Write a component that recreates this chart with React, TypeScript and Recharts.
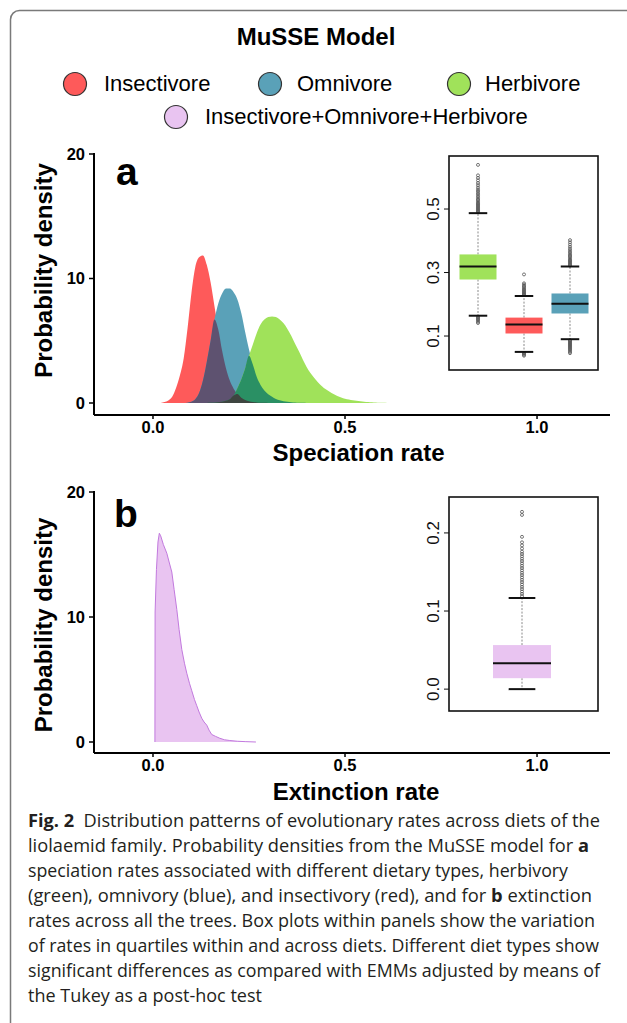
import React from 'react';
import { ComposedChart, Area, XAxis, YAxis, BarChart, Bar } from 'recharts';

const FONT = '"Liberation Sans", Arial, Helvetica, sans-serif';
const CAPTION_FONT = '"Open Sans", "Noto Sans", sans-serif';

const RED = '#fe5a5a';
const BLUE = '#5aa1b8';
const GREEN = '#a0e25a';
const RED_BLUE = '#5e5270';
const BLUE_GREEN = '#2a9064';
const ALL_THREE = '#3e4540';
const PURPLE_FILL = '#e9c4f1';
const PURPLE_LINE = '#c27ade';

// ---------- panel a: speciation rate densities on a shared rate grid ----------
const speciationRateGrid = [
  0.02, 0.03, 0.04, 0.05, 0.06, 0.07, 0.08, 0.09, 0.10, 0.11, 0.12, 0.13, 0.14, 0.15, 0.16,
  0.17, 0.18, 0.19, 0.20, 0.21, 0.22, 0.23, 0.24, 0.25, 0.26, 0.27, 0.28, 0.29, 0.30, 0.31,
  0.32, 0.33, 0.34, 0.35, 0.36, 0.37, 0.38, 0.39, 0.40, 0.41, 0.42, 0.43, 0.44, 0.45, 0.46,
  0.47, 0.48, 0.49, 0.50, 0.51, 0.52, 0.53, 0.54, 0.55, 0.56, 0.57, 0.58, 0.59, 0.60, 0.61,
];
const insectivoreDensity = [
  0, 0.08, 0.2, 0.5, 1.2, 2.2, 3.6, 6.0, 8.8, 10.9, 11.7, 11.85, 11.1, 9.7, 7.8,
  5.9, 4.2, 2.8, 1.8, 1.15, 0.72, 0.43, 0.25, 0.14, 0.08, 0.05, 0.03, 0.01, 0, 0,
  0, 0, 0, 0, 0, 0, 0, 0, 0, 0, 0, 0, 0, 0, 0,
  0, 0, 0, 0, 0, 0, 0, 0, 0, 0, 0, 0, 0, 0, 0,
];
const omnivoreDensity = [
  0, 0, 0, 0, 0, 0, 0, 0.03, 0.1, 0.3, 0.8, 1.8, 3.3, 5.0, 6.7,
  8.0, 8.8, 9.2, 9.2, 8.9, 8.3, 7.2, 5.7, 4.3, 3.1, 2.1, 1.45, 1.0, 0.7, 0.5,
  0.33, 0.22, 0.14, 0.1, 0.06, 0.04, 0.02, 0.01, 0, 0, 0, 0, 0, 0, 0,
  0, 0, 0, 0, 0, 0, 0, 0, 0, 0, 0, 0, 0, 0, 0,
];
const herbivoreDensity = [
  0, 0, 0, 0, 0, 0, 0, 0, 0, 0, 0, 0, 0, 0.01, 0.03,
  0.06, 0.1, 0.18, 0.3, 0.6, 1.2, 1.9, 2.8, 3.8, 4.7, 5.6, 6.3, 6.7, 6.9, 6.95,
  6.9, 6.7, 6.4, 5.95, 5.4, 4.75, 4.15, 3.5, 2.9, 2.4, 2.0, 1.65, 1.35, 1.1, 0.9,
  0.72, 0.57, 0.45, 0.35, 0.28, 0.22, 0.18, 0.14, 0.11, 0.09, 0.07, 0.05, 0.03, 0.02, 0,
];

// ---------- panel b: extinction rate density (all diets) [rate, density] ----------
const allDietsExtinctionDensity: number[][] = [
  [0.005, 0], [0.0055, 10.4], [0.009, 13.8], [0.013, 16.0], [0.0165, 16.7], [0.02, 16.5],
  [0.027, 15.8], [0.036, 15.1], [0.042, 14.4], [0.049, 13.6], [0.055, 12.2], [0.062, 10.6],
  [0.068, 9.0], [0.075, 7.4], [0.082, 6.3], [0.088, 5.5], [0.095, 4.7], [0.101, 4.1],
  [0.108, 3.4], [0.114, 2.9], [0.12, 2.4], [0.127, 1.9], [0.133, 1.6], [0.14, 1.35],
  [0.146, 0.95], [0.153, 0.6], [0.163, 0.45], [0.174, 0.3], [0.186, 0.18], [0.2, 0.12],
  [0.22, 0.06], [0.24, 0.03], [0.268, 0],
];

// ---------- axis ticks ----------
const rateTicks = [0, 0.5, 1.0];
const densityTicks = [0, 10, 20];
const speciationBoxTicks = [0.1, 0.3, 0.5];
const extinctionBoxTicks = [0.0, 0.1, 0.2];

// ---------- inset box plots ----------
const speciationDiets = ['Herbivore', 'Insectivore', 'Omnivore'];
const speciationWhiskerLow = [0.164, 0.05, 0.09];
const speciationQ1 = [0.278, 0.108, 0.171];
const speciationMedian = [0.319, 0.136, 0.202];
const speciationQ3 = [0.357, 0.158, 0.234];
const speciationWhiskerHigh = [0.487, 0.226, 0.319];
const speciationOutliers: number[][] = [
  [0.490, 0.493, 0.496, 0.499, 0.502, 0.505, 0.508, 0.511, 0.514, 0.517, 0.520, 0.524, 0.528,
    0.532, 0.537, 0.542, 0.547, 0.552, 0.557, 0.562, 0.568, 0.575, 0.582, 0.590, 0.598, 0.606,
    0.639, 0.161, 0.158, 0.155, 0.152, 0.149, 0.145, 0.141],
  [0.229, 0.232, 0.235, 0.238, 0.241, 0.244, 0.247, 0.250, 0.254, 0.258, 0.262, 0.266, 0.294,
    0.047, 0.044, 0.041, 0.038],
  [0.322, 0.325, 0.328, 0.331, 0.334, 0.337, 0.340, 0.344, 0.348, 0.352, 0.356, 0.360, 0.365,
    0.370, 0.375, 0.381, 0.388, 0.395, 0.402, 0.087, 0.084, 0.081, 0.078, 0.075, 0.072, 0.069,
    0.066, 0.063, 0.060, 0.057, 0.054, 0.050, 0.046],
];

const extinctionGroups = ['Insectivore+Omnivore+Herbivore'];
const extinctionWhiskerLow = [0.0];
const extinctionQ1 = [0.014];
const extinctionMedian = [0.033];
const extinctionQ3 = [0.0564];
const extinctionWhiskerHigh = [0.1167];
const extinctionOutliers: number[][] = [
  [0.119, 0.122, 0.125, 0.128, 0.131, 0.134, 0.137, 0.140, 0.143, 0.146, 0.149, 0.152, 0.155,
    0.158, 0.161, 0.164, 0.167, 0.170, 0.173, 0.176, 0.180, 0.184, 0.188, 0.195, 0.223, 0.227],
];

const dietColor: Record<string, string> = {
  Herbivore: GREEN,
  Insectivore: RED,
  Omnivore: BLUE,
  'Insectivore+Omnivore+Herbivore': PURPLE_FILL,
};

// ---------- data builders ----------
// overlap layers (where translucent densities overlap) are the pointwise minimum of the series
const speciationData = speciationRateGrid.map((x, i) => {
  const ins = insectivoreDensity[i];
  const omn = omnivoreDensity[i];
  const her = herbivoreDensity[i];
  return {
    x,
    insectivore: ins,
    omnivore: omn,
    herbivore: her,
    insOmn: Math.min(ins, omn),
    omnHer: Math.min(omn, her),
    allThree: Math.min(ins, omn, her),
  };
});
const extinctionData = allDietsExtinctionDensity.map(([x, y]) => ({ x, all: y }));

function buildBoxes(names: string[], lo: number[], q1: number[], med: number[], q3: number[], hi: number[], out: number[][]) {
  return names.map((name, i) => ({
    name, lo: lo[i], q1: q1[i], median: med[i], q3: q3[i], hi: hi[i], outliers: out[i],
  }));
}
const speciationBoxData = buildBoxes(speciationDiets, speciationWhiskerLow, speciationQ1, speciationMedian, speciationQ3, speciationWhiskerHigh, speciationOutliers);
const extinctionBoxData = buildBoxes(extinctionGroups, extinctionWhiskerLow, extinctionQ1, extinctionMedian, extinctionQ3, extinctionWhiskerHigh, extinctionOutliers);

const boxRange = (d: any) => [d.q1, d.q3];

// ---------- custom shapes ----------
const BoxShape = (props: any) => {
  const { x, y, width, height, payload, capRatio } = props;
  if (width == null || height == null || !payload) return null;
  const top = Math.min(y, y + height);
  const h = Math.abs(height);
  const ppu = h / (payload.q3 - payload.q1);
  const py = (v: number) => top + (payload.q3 - v) * ppu;
  const cx = x + width / 2;
  const cap = width * capRatio;
  return (
    <g>
      <line x1={cx} x2={cx} y1={py(payload.q3)} y2={py(payload.hi)} stroke="#8a8a8a" strokeWidth={1} strokeDasharray="2 1.5" />
      <line x1={cx} x2={cx} y1={py(payload.q1)} y2={py(payload.lo)} stroke="#8a8a8a" strokeWidth={1} strokeDasharray="2 1.5" />
      {payload.outliers.map((v: number, i: number) => (
        <circle key={i} cx={cx} cy={py(v)} r={1.5} fill="none" stroke="#555" strokeWidth={0.8} />
      ))}
      <rect x={x} y={top} width={width} height={h} fill={dietColor[payload.name]} />
      <line x1={x} x2={x + width} y1={py(payload.median)} y2={py(payload.median)} stroke="#111" strokeWidth={2} />
      <line x1={cx - cap} x2={cx + cap} y1={py(payload.hi)} y2={py(payload.hi)} stroke="#111" strokeWidth={2} />
      <line x1={cx - cap} x2={cx + cap} y1={py(payload.lo)} y2={py(payload.lo)} stroke="#111" strokeWidth={2} />
    </g>
  );
};

const RotatedTick = (props: any) => {
  const { x, y, payload } = props;
  return (
    <text transform={`translate(${x},${y}) rotate(-90)`} textAnchor="middle" fontSize={17} fontFamily={FONT} fill="#111">
      {Number(payload.value).toFixed(1)}
    </text>
  );
};

const axisTick = { fill: '#000', fontSize: 16.5, fontWeight: 700, fontFamily: FONT };

function DensityPanel({ data, children, top, marginTop, xAxisHeight, yDomain }: any) {
  return (
    <div style={{ position: 'absolute', left: 0, top }}>
      <ComposedChart width={627} height={330} data={data} margin={{ top: marginTop, right: 17, left: 0, bottom: 0 }}>
        <XAxis
          type="number" dataKey="x" domain={[-0.1536, 1.19]} allowDataOverflow ticks={rateTicks} interval={0}
          tickFormatter={(v: number) => v.toFixed(1)} height={xAxisHeight} stroke="#000"
          axisLine={{ stroke: '#000', strokeWidth: 2 }} tickLine={{ stroke: '#000', strokeWidth: 1.5 }}
          tickSize={4} tickMargin={2} tick={axisTick}
        />
        <YAxis
          type="number" domain={yDomain} allowDataOverflow ticks={densityTicks} interval={0} width={94} stroke="#000"
          axisLine={{ stroke: '#000', strokeWidth: 2 }} tickLine={{ stroke: '#000', strokeWidth: 1.5 }}
          tickSize={5} tickMargin={4} tick={axisTick}
        />
        {children}
      </ComposedChart>
    </div>
  );
}

function BoxInset({ data, top, marginTop, marginBottom, yDomain, ticks, padding, barSize, capRatio }: any) {
  return (
    <div style={{ position: 'absolute', left: 400, top }}>
      <BarChart width={220} height={230} data={data} margin={{ top: marginTop, right: 22, left: 0, bottom: marginBottom }}>
        <XAxis dataKey="name" type="category" hide padding={padding} />
        <YAxis
          type="number" domain={yDomain} allowDataOverflow ticks={ticks} interval={0} width={49}
          axisLine={false} tickLine={{ stroke: '#111', strokeWidth: 1 }} tickSize={5} tickMargin={5}
          tick={<RotatedTick />}
        />
        <Bar dataKey={boxRange} barSize={barSize} isAnimationActive={false}
          shape={(p: any) => <BoxShape {...p} capRatio={capRatio} />} />
      </BarChart>
    </div>
  );
}

const legendItems = [
  { label: 'Insectivore', color: RED, cx: 75, cy: 84, tx: 104, ty: 91 },
  { label: 'Omnivore', color: BLUE, cx: 270, cy: 84, tx: 297, ty: 91 },
  { label: 'Herbivore', color: GREEN, cx: 459, cy: 84, tx: 485, ty: 91 },
  { label: 'Insectivore+Omnivore+Herbivore', color: PURPLE_FILL, cx: 176, cy: 117, tx: 205, ty: 124 },
];

const captionLines: { parts: { t: string; b?: boolean }[]; w: number }[] = [
  { parts: [{ t: 'Fig. 2', b: true }, { t: '\u00a0\u00a0Distribution patterns of evolutionary rates across diets of the' }], w: 572 },
  { parts: [{ t: 'liolaemid family. Probability densities from the MuSSE model for ' }, { t: 'a', b: true }], w: 561 },
  { parts: [{ t: 'speciation rates associated with different dietary types, herbivory' }], w: 540 },
  { parts: [{ t: '(green), omnivory (blue), and insectivory (red), and for ' }, { t: 'b', b: true }, { t: ' extinction' }], w: 564 },
  { parts: [{ t: 'rates across all the trees. Box plots within panels show the variation' }], w: 567 },
  { parts: [{ t: 'of rates in quartiles within and across diets. Different diet types show' }], w: 571 },
  { parts: [{ t: 'significant differences as compared with EMMs adjusted by means of' }], w: 572 },
  { parts: [{ t: 'the Tukey as a post-hoc test' }], w: 234 },
];

const areaCommon = {
  type: 'monotone' as const, fillOpacity: 1, stroke: 'none', baseValue: 0,
  dot: false, activeDot: false, isAnimationActive: false,
};

export default function App() {
  return (
    <div style={{ position: 'absolute', left: 0, top: 0, width: 627, height: 1023, background: '#fff', overflow: 'hidden', fontFamily: FONT }}>
      <DensityPanel data={speciationData} top={140} marginTop={13} xAxisHeight={55} yDomain={[-0.964, 20.08]}>
        <Area dataKey="insectivore" fill={RED} {...areaCommon} />
        <Area dataKey="omnivore" fill={BLUE} {...areaCommon} />
        <Area dataKey="herbivore" fill={GREEN} {...areaCommon} />
        <Area dataKey="insOmn" fill={RED_BLUE} {...areaCommon} />
        <Area dataKey="omnHer" fill={BLUE_GREEN} {...areaCommon} />
        <Area dataKey="allThree" fill={ALL_THREE} {...areaCommon} />
      </DensityPanel>

      <DensityPanel data={extinctionData} top={480} marginTop={11} xAxisHeight={57} yDomain={[-0.88, 20.08]}>
        <Area dataKey="all" type="linear" fill={PURPLE_FILL} fillOpacity={1} stroke={PURPLE_LINE} strokeWidth={1}
          baseValue={0} dot={false} activeDot={false} isAnimationActive={false} />
      </DensityPanel>

      <BoxInset data={speciationBoxData} top={150} marginTop={6} marginBottom={10} yDomain={[-0.007, 0.667]}
        ticks={speciationBoxTicks} padding={{ left: 5.5, right: 5.5 }} barSize={37} capRatio={0.25} />
      <BoxInset data={extinctionBoxData} top={490} marginTop={7} marginBottom={9} yDomain={[-0.028, 0.246]}
        ticks={extinctionBoxTicks} padding={{ left: 0, right: 3 }} barSize={58} capRatio={0.23} />

      <svg width={627} height={1023} style={{ position: 'absolute', left: 0, top: 0, pointerEvents: 'none' }}>
        <rect x={10.5} y={10.5} width={660} height={1030} rx={9} fill="none" stroke="#7a7a7a" strokeWidth={1.5} />
        <text x={316} y={45} textAnchor="middle" fontSize={24} fontWeight={700} fill="#000" fontFamily={FONT}>MuSSE Model</text>
        {legendItems.map((it) => (
          <g key={it.label}>
            <circle cx={it.cx} cy={it.cy} r={11.5} fill={it.color} stroke="#333" strokeWidth={1.2} />
            <text x={it.tx} y={it.ty} fontSize={22} fill="#000" fontFamily={FONT}>{it.label}</text>
          </g>
        ))}

        <rect x={449} y={156} width={149} height={214} fill="none" stroke="#111" strokeWidth={1.6} />
        <rect x={449} y={497} width={149} height={214} fill="none" stroke="#111" strokeWidth={1.6} />

        <text x={116} y={185} fontSize={39} fontWeight={700} fill="#000" fontFamily={FONT}>a</text>
        <text x={114} y={527} fontSize={39} fontWeight={700} fill="#000" fontFamily={FONT}>b</text>

        <text transform="translate(52,270.5) rotate(-90)" textAnchor="middle" fontSize={24} fontWeight={700} fill="#000" fontFamily={FONT}>Probability density</text>
        <text transform="translate(52,625) rotate(-90)" textAnchor="middle" fontSize={24} fontWeight={700} fill="#000" fontFamily={FONT}>Probability density</text>
        <text x={358.5} y={461} textAnchor="middle" fontSize={24} fontWeight={700} fill="#000" fontFamily={FONT}>Speciation rate</text>
        <text x={356} y={800} textAnchor="middle" fontSize={24} fontWeight={700} fill="#000" fontFamily={FONT}>Extinction rate</text>

        {captionLines.map((line, i) => (
          <text key={i} x={28} y={827 + i * 25} fontSize={18} fill="#231f20" fontFamily={CAPTION_FONT}
            textLength={line.w} lengthAdjust="spacingAndGlyphs">
            {line.parts.map((p, j) => (
              <tspan key={j} fontWeight={p.b ? 700 : 400}>{p.t}</tspan>
            ))}
          </text>
        ))}
      </svg>
    </div>
  );
}
